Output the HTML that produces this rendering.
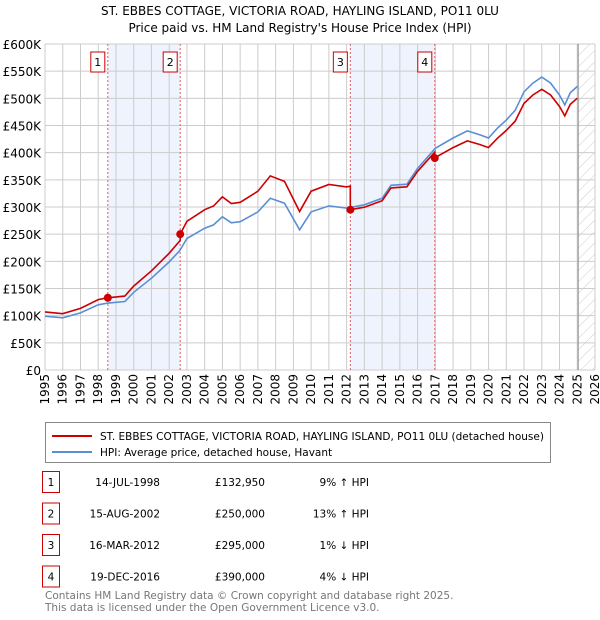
<!DOCTYPE html>
<html><head><meta charset="utf-8"><style>
body{margin:0;background:#fff;font-family:"DejaVu Sans","Liberation Sans",sans-serif;}
#wrap{position:relative;width:600px;height:620px;overflow:hidden}
svg text{font-family:"DejaVu Sans","Liberation Sans",sans-serif}
</style></head><body><div id="wrap">
<svg id="chart" width="600" height="620"></svg>
</div>
<script>
const hpiYears=[1995,1996,1997,1998,1998.5,1999.5,2000,2001,2002,2002.6,2003,2004,2004.5,2005,2005.5,2006,2007,2007.7,2008.5,2009.35,2010,2011,2012,2013,2014,2014.5,2015.4,2016,2017,2018,2018.8,2019.5,2020,2020.5,2021,2021.5,2022,2022.5,2023,2023.5,2024,2024.3,2024.6,2025];
const hpiValues=[99,96,105,120,123,126,143,169,199,220,242,261,267,282,271,273,291,316,307,258,291,302,298,304,316,340,342,371,408,427,440,433,427,445,460,478,512,528,539,528,506,488,510,522];
const saleYears=[1998.54,2002.62,2012.21,2016.97];
const salePrices=[132.95,250,295,390];
const saleLabels=["1","2","3","4"];
const yTicks=[0,50,100,150,200,250,300,350,400,450,500,550,600];
const xTicks=[1995,1996,1997,1998,1999,2000,2001,2002,2003,2004,2005,2006,2007,2008,2009,2010,2011,2012,2013,2014,2015,2016,2017,2018,2019,2020,2021,2022,2023,2024,2025,2026];
const rowDates=["14-JUL-1998","15-AUG-2002","16-MAR-2012","19-DEC-2016"];
const rowPrices=["£132,950","£250,000","£295,000","£390,000"];
const rowDiffs=["9% ↑ HPI","13% ↑ HPI","1% ↓ HPI","4% ↓ HPI"];

const L=45,R=595,T=44,B=370,X0=1995,X1=2026,Y1=600;
const sx=y=>L+(y-X0)/(X1-X0)*(R-L);
const sy=v=>B-v/Y1*(B-T);
const NS="http://www.w3.org/2000/svg";
const svg=document.getElementById('chart');
function mk(t,a,p){const e=document.createElementNS(NS,t);for(const k in a)e.setAttribute(k,a[k]);(p||svg).appendChild(e);return e;}
function hpiAt(y){for(let i=0;i<hpiYears.length-1;i++){if(y<=hpiYears[i+1]){const f=(y-hpiYears[i])/(hpiYears[i+1]-hpiYears[i]);return hpiValues[i]+f*(hpiValues[i+1]-hpiValues[i]);}}return hpiValues[hpiValues.length-1];}

let e;
e=mk('text',{x:300,y:15,'text-anchor':'middle','font-size':'12'});e.textContent="ST. EBBES COTTAGE, VICTORIA ROAD, HAYLING ISLAND, PO11 0LU";


e=mk('text',{x:300,y:32,'text-anchor':'middle','font-size':'12'});e.textContent="Price paid vs. HM Land Registry's House Price Index (HPI)";



for(let i=0;i<saleYears.length;i+=2){
 e=mk('rect',{x:sx(saleYears[i]),y:T,width:sx(saleYears[i+1])-sx(saleYears[i]),height:B-T,fill:'#eef3fd'});
 
 
}
const defs=mk('defs',{});
const pat=mk('pattern',{id:'h',width:8,height:8,patternUnits:'userSpaceOnUse',patternTransform:'rotate(45)'},defs);
mk('line',{x1:0,y1:0,x2:0,y2:8,stroke:'#ccc','stroke-width':1},pat);
e=mk('rect',{x:sx(2025.05),y:T,width:R-sx(2025.05),height:B-T,fill:'url(#h)'});



yTicks.forEach(v=>{
 e=mk('line',{x1:L,x2:R,y1:sy(v),y2:sy(v),stroke:'#cccccc','stroke-width':1});
 
 
 e=mk('text',{x:L-4,y:sy(v)+5,'text-anchor':'end','font-size':'12'});e.textContent=v===0?'£0':'£'+v+'K';
 
 
});
xTicks.forEach(y=>{
 e=mk('line',{x1:sx(y),x2:sx(y),y1:T,y2:B,stroke:'#cccccc','stroke-width':1});
 
 
 e=mk('text',{x:0,y:0,'text-anchor':'end','font-size':'12',transform:`translate(${sx(y)+4},${B+4}) rotate(-90)`});e.textContent=y;
 
 
});
e=mk('line',{x1:sx(2025.05),x2:sx(2025.05),y1:T,y2:B,stroke:'#888','stroke-width':1});



saleYears.forEach((y,i)=>{
 e=mk('line',{x1:sx(y),x2:sx(y),y1:T,y2:B,stroke:'#e06060','stroke-width':1,'stroke-dasharray':'2,2'});
 
 
 e=mk('rect',{x:sx(y)-17,y:52,width:14,height:20,fill:'#fff',stroke:'#cc0000'});
 
 
 e=mk('text',{x:sx(y)-10,y:66,'text-anchor':'middle','font-size':'11'});e.textContent=saleLabels[i];
 
 
});

let d=hpiYears.map((y,i)=>(i?'L':'M')+sx(y).toFixed(1)+','+sy(hpiValues[i]).toFixed(1)).join('');
e=mk('path',{d:d,fill:'none',stroke:'#5b8fd4','stroke-width':1.6});



function ratio(y){let k=0;for(let i=0;i<saleYears.length;i++)if(y>=saleYears[i])k=i;return salePrices[k]/hpiAt(saleYears[k]);}
let pts=[];
const allY=hpiYears.concat(saleYears).sort((a,b)=>a-b);
allY.forEach(y=>{
 const si=saleYears.indexOf(y);
 if(si>0){pts.push([y,hpiAt(y)*salePrices[si-1]/hpiAt(saleYears[si-1])]);}
 pts.push([y,hpiAt(y)*ratio(y)]);
});
d=pts.map((p,i)=>(i?'L':'M')+sx(p[0]).toFixed(1)+','+sy(p[1]).toFixed(1)).join('');
e=mk('path',{d:d,fill:'none',stroke:'#cc0000','stroke-width':1.6});


saleYears.forEach((y,i)=>{
 e=mk('circle',{cx:sx(y),cy:sy(salePrices[i]),r:4,fill:'#cc0000'});
 
 
});

e=mk('rect',{x:45.5,y:422.5,width:505,height:40,fill:'#fff',stroke:'#888'});


e=mk('line',{x1:52,x2:92,y1:436,y2:436,stroke:'#cc0000','stroke-width':2});


e=mk('text',{x:100,y:440,'font-size':'10.5'});e.textContent="ST. EBBES COTTAGE, VICTORIA ROAD, HAYLING ISLAND, PO11 0LU (detached house)";


e=mk('line',{x1:52,x2:92,y1:452,y2:452,stroke:'#5b8fd4','stroke-width':2});


e=mk('text',{x:100,y:456,'font-size':'10.5'});e.textContent="HPI: Average price, detached house, Havant";



rowDates.forEach((dt,i)=>{
 const cy=482+i*31.5;
 e=mk('rect',{x:42.5,y:cy-10.5,width:17,height:21,fill:'#fff',stroke:'#cc0000'});
 
 
 e=mk('text',{x:51,y:cy+4,'text-anchor':'middle','font-size':'10.5'});e.textContent=saleLabels[i];
 
 
 e=mk('text',{x:160,y:cy+4,'text-anchor':'end','font-size':'10.5'});e.textContent=dt;
 
 
 e=mk('text',{x:265,y:cy+4,'text-anchor':'end','font-size':'10.5'});e.textContent=rowPrices[i];
 
 
 e=mk('text',{x:369,y:cy+4,'text-anchor':'end','font-size':'10.5'});e.textContent=rowDiffs[i];
 
 
});
e=mk('text',{x:45,y:599,'font-size':'10.5',fill:'#777'});e.textContent="Contains HM Land Registry data © Crown copyright and database right 2025.";


e=mk('text',{x:45,y:611,'font-size':'10.5',fill:'#777'});e.textContent="This data is licensed under the Open Government Licence v3.0.";


</script></body></html>
